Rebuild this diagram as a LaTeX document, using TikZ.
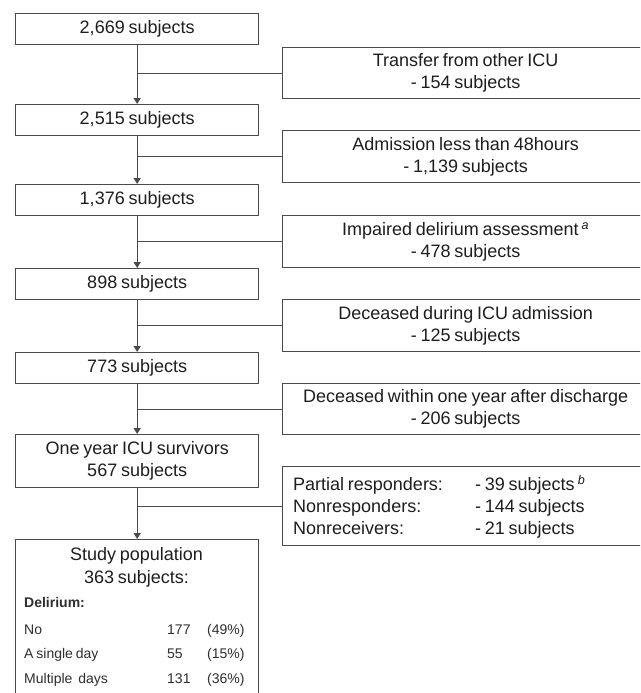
\documentclass[tikz,border=0pt]{standalone}
\usepackage{fontspec}
\setmainfont{Liberation Sans}[WordSpace=0.75]
\usetikzlibrary{arrows.meta}
\definecolor{linec}{HTML}{4A4A4A}
\definecolor{textc}{HTML}{1E1E1E}
\definecolor{tblc}{HTML}{2E2E2E}
\begin{document}
\begin{tikzpicture}[x=1pt,y=-1pt,
  box/.style={draw=linec, line width=1.3pt, fill=white, anchor=north west, inner sep=0pt,
    align=center, text=textc, font=\fontsize{18}{22}\selectfont},
  lbox/.style={box, minimum width=243pt},
  rbox/.style={box, minimum width=366pt},
  flow/.style={draw=linec, line width=1.3pt, -{Triangle[width=7pt,length=6pt]}},
  branch/.style={draw=linec, line width=1.3pt},
  txt/.style={inner sep=0pt, text=textc, font=\fontsize{18}{22}\selectfont},
  tbl/.style={inner sep=0pt, text=tblc, font=\fontsize{14}{17}\selectfont, anchor=base west}]
\useasboundingbox (0,0) rectangle (640,693);
\clip (0,0) rectangle (640,693);
\fill[white] (0,0) rectangle (640,693);
% left column
\node[lbox, minimum height=31pt] (l1) at (15,13) {2,669 subjects};
\node[lbox, minimum height=31pt] (l2) at (15,104) {2,515 subjects};
\node[lbox, minimum height=31pt] (l3) at (15,184) {1,376 subjects};
\node[lbox, minimum height=31pt] (l4) at (15,268) {898 subjects};
\node[lbox, minimum height=31pt] (l5) at (15,352) {773 subjects};
\node[lbox, minimum height=53pt] (l6) at (15,434) {One year ICU survivors\\567 subjects};
\node[lbox, minimum height=160pt] (l7) at (15,539) {};
% right column
\node[rbox, minimum height=51pt] (r1) at (282,47) {Transfer from other ICU\\- 154 subjects};
\node[rbox, minimum height=52pt] (r2) at (282,130) {Admission less than 48hours\\- 1,139 subjects};
\node[rbox, minimum height=52pt] (r3) at (282,215) {Impaired delirium assessment\,\textsuperscript{\textit{a}}\\- 478 subjects};
\node[rbox, minimum height=52pt] (r4) at (282,299) {Deceased during ICU admission\\- 125 subjects};
\node[rbox, minimum height=51pt] (r5) at (282,383) {Deceased within one year after discharge\\- 206 subjects};
\node[rbox, minimum height=79pt] (r6) at (282,466) {};
\node[txt, anchor=west, align=left] (r6a) at (293,507)
  {\makebox[182pt][l]{Partial responders:}- 39 subjects\,\textsuperscript{\textit{b}}\\
   \makebox[182pt][l]{Nonresponders:}- 144 subjects\\
   \makebox[182pt][l]{Nonreceivers:}- 21 subjects};
% flow arrows
\draw[flow] (l1.south) -- (l2.north);
\draw[flow] (l2.south) -- (l3.north);
\draw[flow] (l3.south) -- (l4.north);
\draw[flow] (l4.south) -- (l5.north);
\draw[flow] (l5.south) -- (l6.north);
\draw[flow] (l6.south) -- (l7.north);
% branches
\draw[branch] (l1.south |- r1.west) -- (r1.west);
\draw[branch] (l2.south |- r2.west) -- (r2.west);
\draw[branch] (l3.south |- r3.west) -- (r3.west);
\draw[branch] (l4.south |- r4.west) -- (r4.west);
\draw[branch] (l5.south |- r5.west) -- (r5.west);
\draw[branch] (l6.south |- r6.west) -- (r6.west);
% study population contents
\node[txt, align=center, font=\fontsize{18}{23}\selectfont] (sp) at (136.5,567.5) {Study population\\363 subjects:};
\node[tbl] (dl) at (24,607) {\textbf{Delirium:}};
\node[tbl] (n1) at (24,634) {No};
\node[tbl] (n2) at (167,634) {177};
\node[tbl] (n3) at (207,634) {(49\%)};
\node[tbl] (s1) at (24,658) {A single day};
\node[tbl] (s2) at (167,658) {55};
\node[tbl] (s3) at (207,658) {(15\%)};
\node[tbl] (m1) at (24,683) {Multiple\ \ days};
\node[tbl] (m2) at (167,683) {131};
\node[tbl] (m3) at (207,683) {(36\%)};
\end{tikzpicture}
\end{document}
